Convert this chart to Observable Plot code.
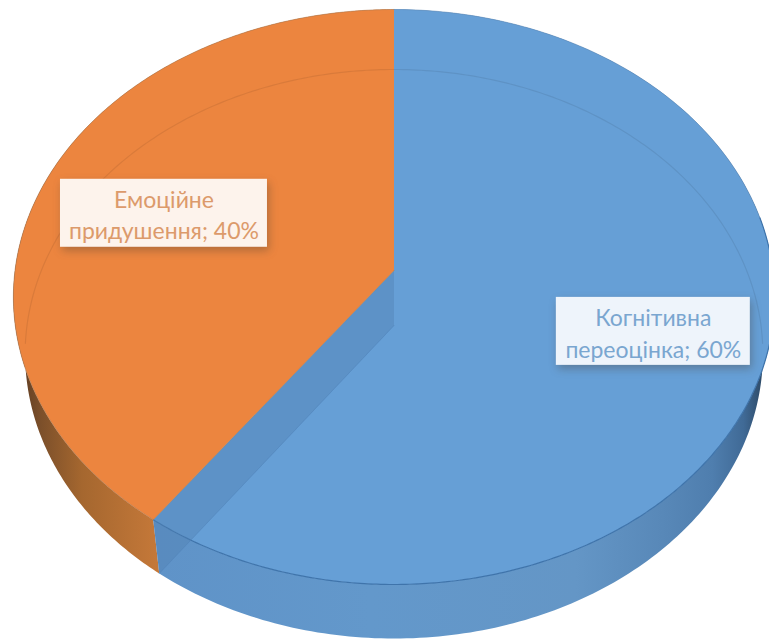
<!DOCTYPE html>
<html><head><meta charset="utf-8">
<style>html,body{margin:0;padding:0;background:#fff}svg{display:block}</style>
<script src="https://cdn.jsdelivr.net/npm/d3@7"></script>
<script src="https://cdn.jsdelivr.net/npm/@observablehq/plot@0.6"></script>
</head><body><div id="chart"></div>
<script>
const categories = ["Когнітивна переоцінка", "Емоційне придушення"];
const shares = [60, 40];

// picture layout
const W = 769, H = 639;
const cx = 393.5;
const topRim = {R: 379, a: 260.17, b: 270, c: -0.0922};
const botRim = {R: 367, a: 249.1, b: 325, c: -0.1002};
const labelReach = [0.705, 0.65];
const labelLift = [2.5, 1];
const faceColors = ["#669fd6", "#ec853f"];
const boxFill = ["#eef4fb", "#fdf3ec"];
const textFill = ["#7aa6d0", "#dc9a6b"];
const boxW = [194, 207], boxH = 68;

// perspective projection of a point on the disc: angle clockwise from 12 o'clock
const project = (rim, share, r = 1) => {
  const ang = share / 100 * 2 * Math.PI;
  const u = r * Math.sin(ang), t = -r * Math.cos(ang), w = 1 + rim.c * t;
  return {x: cx + rim.R * u / w, y: (rim.a * t + rim.b) / w};
};
const arc = (rim, from, to) => d3.range(0, 241).map(i => project(rim, from + (to - from) * i / 240));

const starts = [0, shares[0]];
const ends = [shares[0], 100];

const face = i => [project(topRim, 0, 0), ...arc(topRim, starts[i], ends[i])];
const wall = i => [...arc(topRim, starts[i], ends[i]), ...arc(botRim, starts[i], ends[i]).reverse()];
const innerWall = [project(topRim, 0, 0), project(botRim, 0, 0), project(botRim, shares[0]), project(topRim, shares[0])];
const innerFoot = [project(botRim, 0, 0), project(botRim, shares[0])];
const backRim = arc(botRim, -26, 26);

const labels = categories.map((c, i) => {
  const mid = project(topRim, (starts[i] + ends[i]) / 2, labelReach[i]);
  const y = mid.y - labelLift[i];
  return {
    x: mid.x, y, i,
    x1: mid.x - boxW[i] / 2, x2: mid.x + boxW[i] / 2,
    y1: y - boxH / 2, y2: y + boxH / 2,
    text: `${c.replace(" ", "\n")}; ${shares[i]}%`
  };
});

const gradient = (id, stops) => () => {
  const defs = d3.create("svg:defs");
  const g = defs.append("linearGradient").attr("id", id);
  stops.forEach(([o, col]) => g.append("stop").attr("offset", o).attr("stop-color", col));
  return defs.node();
};

const chart = Plot.plot({
  width: W, height: H, margin: 0,
  x: {domain: [0, W], range: [0, W], axis: null},
  y: {domain: [0, H], range: [0, H], axis: null},
  marks: [
    gradient("wallBlue", [[0, "#5f93c8"], [0.35, "#6398cb"], [0.68, "#6496c6"], [0.82, "#5888b8"], [0.9, "#4f7eae"], [0.95, "#406a96"], [0.985, "#2b4661"], [1, "#22364c"]]),
    gradient("wallOrange", [[0, "#553620"], [0.07, "#7b4f2a"], [0.18, "#a5672f"], [0.4, "#c87a3a"], [0.75, "#d5803d"], [1, "#de843f"]]),
    Plot.line(wall(1), {x: "x", y: "y", fill: "url(#wallOrange)", stroke: "none"}),
    Plot.line(wall(0), {x: "x", y: "y", fill: "url(#wallBlue)", stroke: "none"}),
    Plot.line(face(0), {x: "x", y: "y", fill: faceColors[0], stroke: "none"}),
    Plot.line(arc(topRim, 22, 60), {x: "x", y: "y", stroke: "#3f74ab", strokeWidth: 1.2}),
    Plot.line(innerWall, {x: "x", y: "y", fill: "#4f7fb2", fillOpacity: 0.4, stroke: "none"}),
    Plot.line(innerFoot, {x: "x", y: "y", stroke: "#4f81b8", strokeOpacity: 0.5, strokeWidth: 1}),
    Plot.line(face(1), {x: "x", y: "y", fill: faceColors[1], stroke: "#a8774f", strokeWidth: 0.8, strokeOpacity: 0.7}),
    Plot.line(arc(topRim, 0, 22), {x: "x", y: "y", stroke: "#5c87b3", strokeWidth: 0.8, strokeOpacity: 0.7}),
    Plot.line(backRim, {x: "x", y: "y", stroke: "#000", strokeOpacity: 0.08, strokeWidth: 1.2}),
    Plot.rect(labels, {x1: "x1", x2: "x2", y1: "y1", y2: "y2", fill: d => boxFill[d.i], imageFilter: "drop-shadow(2px 4px 4px rgba(70,60,50,.35))"}),
    Plot.text(labels, {x: "x", y: "y", text: "text", fill: d => textFill[d.i], fontFamily: "Lato, 'Noto Sans', sans-serif", fontSize: 23, lineHeight: 1.39})
  ]
});
document.getElementById("chart").append(chart);
</script></body></html>
